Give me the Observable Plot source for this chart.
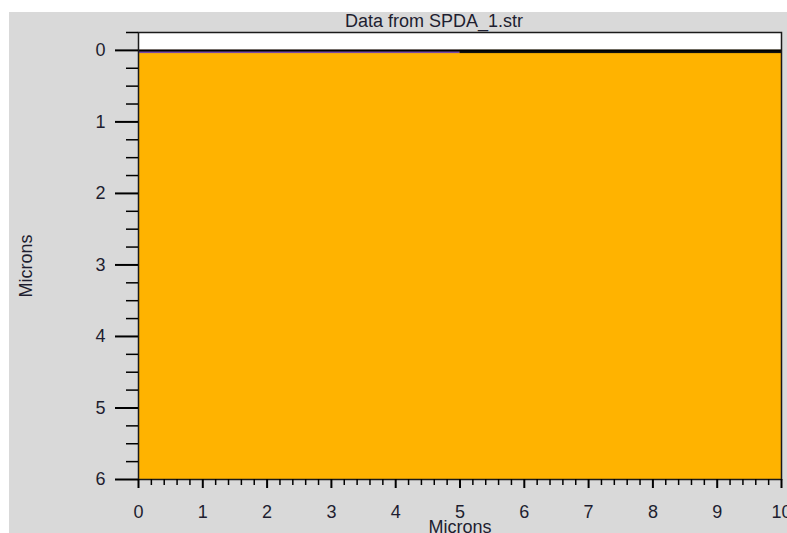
<!DOCTYPE html>
<html><head><meta charset="utf-8">
<script src="https://cdn.jsdelivr.net/npm/d3@7"></script>
<script src="https://cdn.jsdelivr.net/npm/@observablehq/plot@0.6"></script>
<style>
html,body{margin:0;padding:0;background:#ffffff;}
#panel{position:absolute;left:9px;top:12px;width:778px;height:521px;background:#d9d9d9;overflow:hidden;}
#title{box-sizing:border-box;width:778px;height:19px;padding-left:72px;text-align:center;font:18px "Liberation Sans",Arial,sans-serif;line-height:19px;color:#1e1e30;white-space:nowrap;}
</style></head><body>
<div id="panel"><div id="title"></div><div id="chart"></div></div>
<script>
const titleText = "Data from SPDA_1.str";
const xLabel = "Microns";
const yLabel = "Microns";

// Structure regions (microns)
const layers  = ["Ambient", "Silicon", "Oxide", "Contact"];
const layerX1 = [0, 0, 0, 5];
const layerX2 = [10, 10, 5, 10];
const layerY1 = [-0.25, 0, 0, 0];
const layerY2 = [0, 6, 0.045, 0.045];
const surfaceY = [0];

// Axis ticks
const xMajorTicks = [0, 1, 2, 3, 4, 5, 6, 7, 8, 9, 10];
const yMajorTicks = [0, 1, 2, 3, 4, 5, 6];
const xMinorTicks = d3.range(0, 50).map(i => i / 5).filter(v => v % 1 !== 0);
const yMinorTicks = d3.range(-1, 24).map(i => i / 4).filter(v => v % 1 !== 0);

document.getElementById("title").textContent = titleText;

const layerData = layers.map((name, i) => ({name, x1: layerX1[i], x2: layerX2[i], y1: layerY1[i], y2: layerY2[i]}));
const bulk = layerData.filter(d => d.name === "Ambient" || d.name === "Silicon");
const thin = layerData.filter(d => d.name === "Oxide" || d.name === "Contact");

const chart = Plot.plot({
  width: 778,
  height: 502,
  marginTop: 1,
  marginLeft: 129,
  marginRight: 6,
  marginBottom: 54,
  style: {background: "transparent", fontFamily: '"Liberation Sans", Arial, sans-serif', fontSize: "18px", color: "#1e1e30"},
  x: {domain: [0, 10], label: null},
  y: {domain: [-0.25, 6], reverse: true, label: null},
  color: {domain: layers, range: ["#ffffff", "#ffb300", "#7a4aa6", "#111111"]},
  marks: [
    Plot.rect(bulk, {x1: "x1", x2: "x2", y1: "y1", y2: "y2", fill: "name"}),
    Plot.rect(thin, {x1: "x1", x2: "x2", y1: "y1", y2: "y2", fill: "name"}),
    Plot.ruleY(surfaceY, {stroke: "#000", strokeWidth: 2}),
    Plot.frame({stroke: "#1a1a1a", strokeWidth: 1.5}),
    Plot.axisY(yMinorTicks, {tickSize: 12, stroke: "#000", strokeWidth: 1.5, tickFormat: () => "", label: null}),
    Plot.axisY(yMajorTicks, {tickSize: 23, tickPadding: 10, stroke: "#000", strokeWidth: 2, tickFormat: d => String(d), label: null}),
    Plot.axisX(xMinorTicks, {tickSize: 6, stroke: "#000", strokeWidth: 1.5, tickFormat: () => "", label: null}),
    Plot.axisX(xMajorTicks, {tickSize: 9, tickPadding: 17, stroke: "#000", strokeWidth: 2, tickFormat: d => String(d), label: null}),
    Plot.text([xLabel], {text: d => d, frameAnchor: "bottom", textAnchor: "middle", dy: 53, lineAnchor: "bottom", fill: "#1e1e30"}),
    Plot.text([yLabel], {text: d => d, frameAnchor: "left", textAnchor: "middle", lineAnchor: "middle", rotate: -90, dx: -112, dy: 10, fill: "#1e1e30"})
  ]
});
document.getElementById("chart").appendChild(chart);
</script>
</body></html>
